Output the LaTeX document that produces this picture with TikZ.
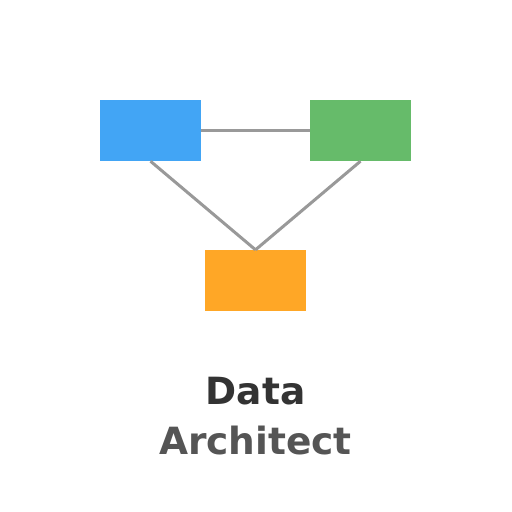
\documentclass[tikz,border=0pt]{standalone}
\usepackage{fontspec}
\setmainfont{DejaVu Sans}
\usetikzlibrary{positioning}

\definecolor{boxblue}{HTML}{42A5F5}
\definecolor{boxgreen}{HTML}{66BB6A}
\definecolor{boxorange}{HTML}{FFA726}
\definecolor{linkgray}{HTML}{999999}
\definecolor{titledark}{HTML}{333333}
\definecolor{titlemid}{HTML}{555555}

\begin{document}
\begin{tikzpicture}[x=1pt,y=-1pt,
    tablebox/.style={inner sep=0pt, minimum width=101pt, minimum height=61pt},
    link/.style={draw=linkgray, line width=3pt},
    title/.style={anchor=base, font=\fontsize{37.5}{37.5}\selectfont\bfseries}]
    \useasboundingbox[fill=white] (0,0) rectangle (512,512);
    % the three tables
    \node(tblA) [tablebox, fill=boxblue] at (150.5,130.5) {};
    \node(tblB) [tablebox, fill=boxgreen] at (360.5,130.5) {};
    \node(tblC) [tablebox, fill=boxorange] at (255.5,280.5) {};
    % links
    \draw[link] (tblA.east) -- (tblB.west);
    \draw[link] (tblA.south) -- (tblC.north);
    \draw[link] (tblB.south) -- (tblC.north);
    % caption
    \node(capA) [title, text=titledark] at (255.5,404.5) {Data};
    \node(capB) [title, text=titlemid] at (255.5,454.5) {Architect};
\end{tikzpicture}
\end{document}
